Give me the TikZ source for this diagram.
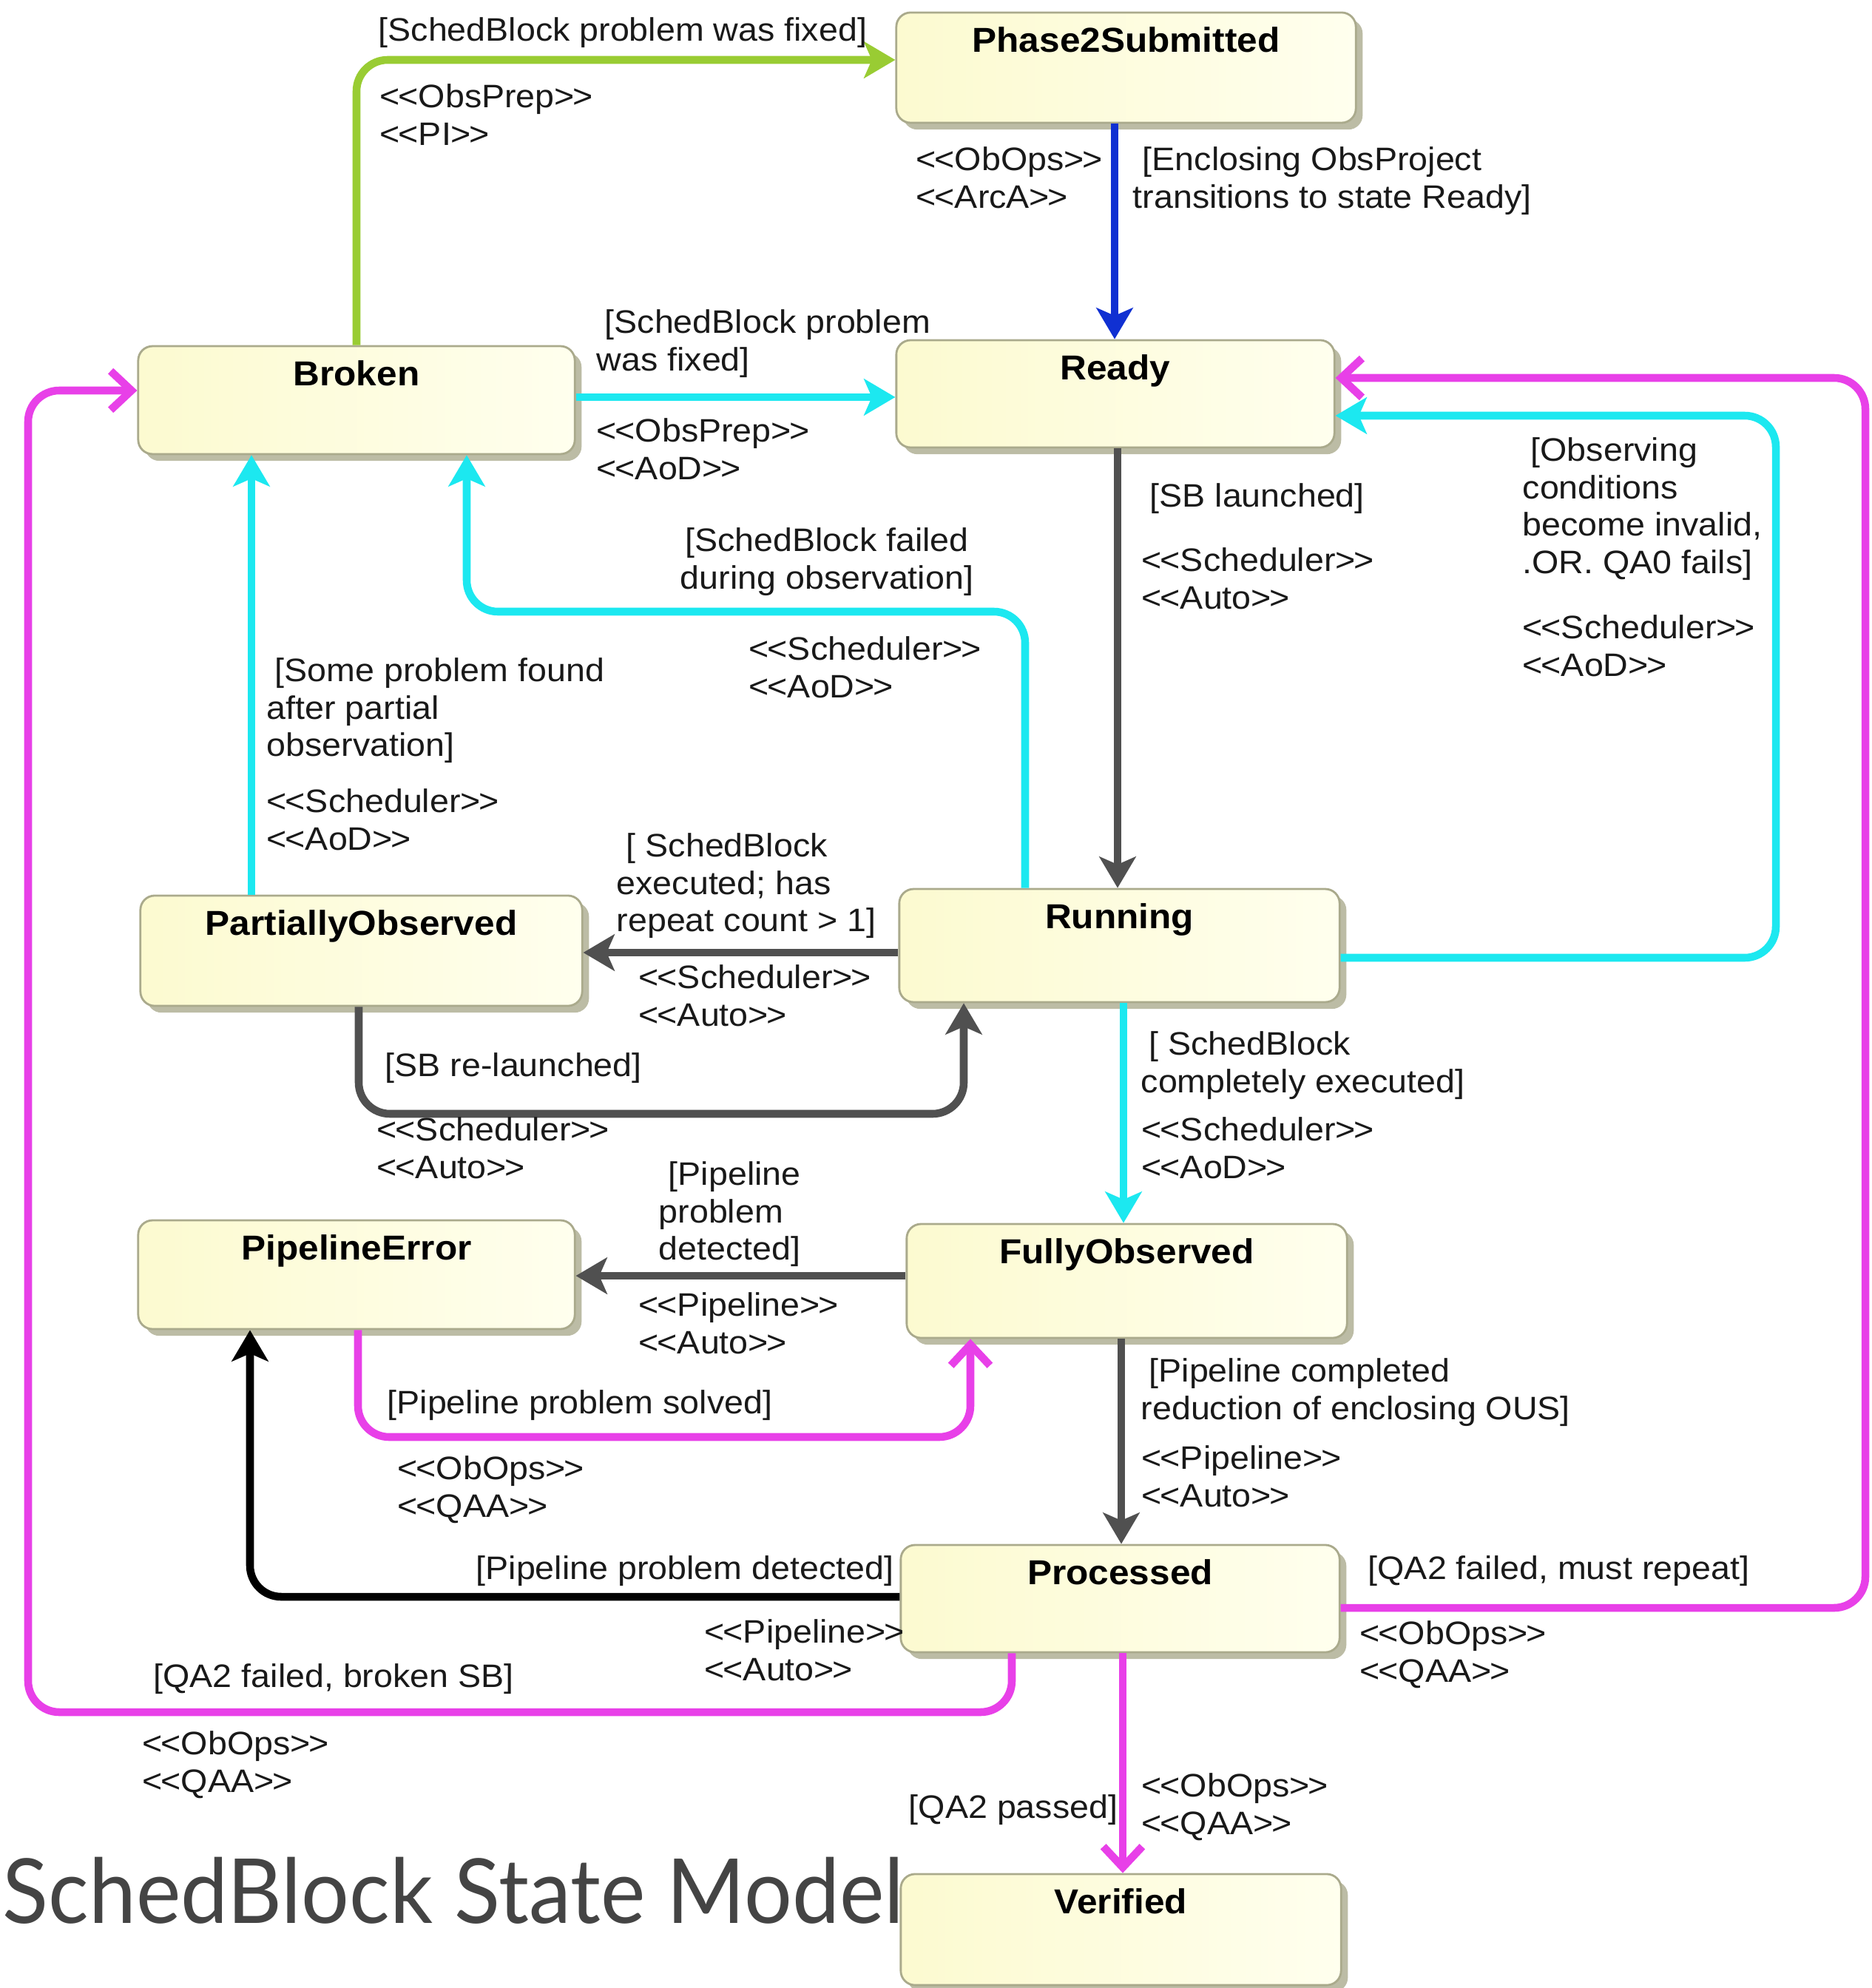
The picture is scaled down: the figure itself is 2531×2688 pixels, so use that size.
\documentclass[tikz,border=0pt]{standalone}
\usepackage{fontspec}
\setmainfont{Liberation Sans}[FakeStretch=1.06]
\newfontfamily\titlefont{Lato}
\usetikzlibrary{arrows.meta,shadows}
\definecolor{cyanc}{RGB}{28,232,240}
\definecolor{magc}{RGB}{232,64,232}
\definecolor{greenc}{RGB}{153,204,51}
\definecolor{bluec}{RGB}{16,48,210}
\definecolor{grayc}{RGB}{80,80,80}
\definecolor{boxleft}{RGB}{252,250,208}
\definecolor{boxright}{RGB}{255,255,238}
\definecolor{boxborder}{RGB}{170,170,140}
\definecolor{shadowc}{RGB}{188,188,165}
\definecolor{textc}{RGB}{25,25,25}
\definecolor{titlec}{RGB}{68,68,68}
\newcommand{\stp}[1]{<\kern-0.05em<#1>\kern-0.05em>}
\begin{document}
\begin{tikzpicture}[x=0.01cm,y=-0.01cm,
  state/.style={draw=boxborder, line width=0.8pt, rounded corners=5.5pt,
    left color=boxleft, right color=boxright,
    drop shadow={shadow xshift=2.6pt, shadow yshift=-2.6pt, fill=shadowc, opacity=1},
    inner xsep=0pt, inner ysep=0pt, text height=15.2pt, text=black,
    font=\fontsize{13.3}{15}\selectfont\bfseries},
  lbl/.style={font=\fontsize{12.5}{14.4}\selectfont, align=left, inner sep=0pt, anchor=north west, text=textc},
  conn/.style={line width=3pt, rounded corners=12pt},
  filledtip/.style={-{Stealth[length=12pt,width=14pt,inset=3pt]}},
  opentip/.style={-{Straight Barb[length=8pt,width=15pt]}},
  cyanarrow/.style={conn, draw=cyanc, filledtip},
  grayarrow/.style={conn, draw=grayc, filledtip},
  blackarrow/.style={conn, draw=black, filledtip},
  bluearrow/.style={conn, draw=bluec, filledtip},
  greenarrow/.style={conn, draw=greenc, filledtip},
  magarrow/.style={conn, draw=magc, opentip}
]
\useasboundingbox (0,0) rectangle (2531,2688);

% states
\node[state, minimum width=6.21cm, text depth=27.2pt] (p2s) at (1522.5,91.5) {Phase2Submitted};
\node[state, minimum width=5.90cm, text depth=26.3pt] (broken) at (482,541) {Broken};
\node[state, minimum width=5.92cm, text depth=26.05pt] (ready) at (1508,532.5) {Ready};
\node[state, minimum width=5.97cm, text depth=27.2pt] (partobs) at (488.5,1285.5) {PartiallyObserved};
\node[state, minimum width=5.95cm, text depth=28.3pt] (running) at (1513.5,1278.5) {Running};
\node[state, minimum width=5.90cm, text depth=26.6pt] (pipeerr) at (482,1723.5) {PipelineError};
\node[state, minimum width=5.95cm, text depth=28.6pt] (fullyobs) at (1523.5,1732) {FullyObserved};
\node[state, minimum width=5.93cm, text depth=26.05pt] (processed) at (1514.5,2161.5) {Processed};
\node[state, minimum width=5.95cm, text depth=27.5pt] (verified) at (1515.5,2609) {Verified};

% connectors
\draw[greenarrow] (482,0 |- broken.north) -- (482,81) -- (p2s.west |- 0,81);
\draw[bluearrow] (1507,0 |- p2s.south) -- (1507,0 |- ready.north);
\draw[cyanarrow] (broken.east |- 0,537) -- (ready.west |- 0,537);
\draw[grayarrow] (1511,0 |- ready.south) -- (1511,0 |- running.north);
\draw[cyanarrow] (running.east |- 0,1295) -- (2401,1295) -- (2401,562) -- (ready.east |- 0,562);
\draw[magarrow] (processed.east |- 0,2174) -- (2522,2174) -- (2522,511) -- (ready.east |- 0,511);
\draw[cyanarrow] (1386,0 |- running.north) -- (1386,827) -- (631,827) -- (631,0 |- broken.south);
\draw[cyanarrow] (340,0 |- partobs.north) -- (340,0 |- broken.south);
\draw[grayarrow] (running.west |- 0,1288) -- (partobs.east |- 0,1288);
\draw[grayarrow] (485,0 |- partobs.south) -- (485,1506) -- (1303,1506) -- (1303,0 |- running.south);
\draw[cyanarrow] (1519,0 |- running.south) -- (1519,0 |- fullyobs.north);
\draw[grayarrow] (fullyobs.west |- 0,1725) -- (pipeerr.east |- 0,1725);
\draw[magarrow] (484,0 |- pipeerr.south) -- (484,1943) -- (1312,1943) -- (1312,0 |- fullyobs.south);
\draw[grayarrow] (1516,0 |- fullyobs.south) -- (1516,0 |- processed.north);
\draw[blackarrow] (processed.west |- 0,2159) -- (338,2159) -- (338,0 |- pipeerr.south);
\draw[magarrow] (1368,0 |- processed.south) -- (1368,2315) -- (38,2315) -- (38,528) -- (broken.west |- 0,528);
\draw[magarrow] (1518,0 |- processed.south) -- (1518,0 |- verified.north);

% labels
\node[lbl] (l1) at (511,23) {[SchedBlock problem was fixed]};
\node[lbl] (l2) at (513,113) {\stp{ObsPrep}\\\stp{PI}};
\node[lbl] (l3) at (1238,198) {\stp{ObOps}\\\stp{ArcA}};
\node[lbl] (l4) at (1531,198) {\hspace*{0.3em}[Enclosing ObsProject\\transitions to state Ready]};
\node[lbl] (l5) at (806,418) {\hspace*{0.25em}[SchedBlock problem\\was fixed]};
\node[lbl] (l6) at (806,565) {\stp{ObsPrep}\\\stp{AoD}};
\node[lbl] (l7) at (1554,653) {[SB launched]};
\node[lbl] (l8) at (1543,740) {\stp{Scheduler}\\\stp{Auto}};
\node[lbl] (l9) at (2058,591) {\hspace*{0.25em}[Observing\\conditions\\become invalid,\\.OR. QA0 fails]};
\node[lbl] (l10) at (2058,831) {\stp{Scheduler}\\\stp{AoD}};
\node[lbl, anchor=north, align=center] (l11) at (1118,713) {[SchedBlock failed\\during observation]};
\node[lbl] (l12) at (1012,860) {\stp{Scheduler}\\\stp{AoD}};
\node[lbl] (l13) at (360,889) {\hspace*{0.25em}[Some problem found\\after partial\\observation]};
\node[lbl] (l14) at (360,1066) {\stp{Scheduler}\\\stp{AoD}};
\node[lbl] (l15) at (833,1126) {\hspace*{0.3em}[ SchedBlock\\executed; has\\repeat count > 1]};
\node[lbl] (l16) at (863,1304) {\stp{Scheduler}\\\stp{Auto}};
\node[lbl] (l17) at (520,1423) {[SB re-launched]};
\node[lbl] (l18) at (509,1510) {\stp{Scheduler}\\\stp{Auto}};
\node[lbl] (l19) at (1542,1394) {\hspace*{0.25em}[ SchedBlock\\completely executed]};
\node[lbl] (l20) at (1543,1510) {\stp{Scheduler}\\\stp{AoD}};
\node[lbl] (l21) at (890,1570) {\hspace*{0.3em}[Pipeline\\problem\\detected]};
\node[lbl] (l22) at (863,1747) {\stp{Pipeline}\\\stp{Auto}};
\node[lbl] (l23) at (523,1879) {[Pipeline problem solved]};
\node[lbl] (l24) at (537,1968) {\stp{ObOps}\\\stp{QAA}};
\node[lbl] (l25) at (1542,1836) {\hspace*{0.25em}[Pipeline completed\\reduction of enclosing OUS]};
\node[lbl] (l26) at (1543,1954) {\stp{Pipeline}\\\stp{Auto}};
\node[lbl, anchor=north east] (l27) at (1209,2103) {[Pipeline problem detected]};
\node[lbl] (l28) at (952,2189) {\stp{Pipeline}\\\stp{Auto}};
\node[lbl] (l29) at (1849,2103) {[QA2 failed, must repeat]};
\node[lbl] (l30) at (1838,2191) {\stp{ObOps}\\\stp{QAA}};
\node[lbl] (l31) at (207,2249) {[QA2 failed, broken SB]};
\node[lbl] (l32) at (192,2340) {\stp{ObOps}\\\stp{QAA}};
\node[lbl, anchor=north east] (l33) at (1512,2426) {[QA2 passed]};
\node[lbl] (l34) at (1543,2397) {\stp{ObOps}\\\stp{QAA}};

% title
\node[anchor=base west, inner sep=0pt, text=titlec, font=\titlefont\fontsize{34.5}{40}\selectfont] (title) at (3,2600) {\scalebox{0.943}[1]{SchedBlock State Model}};
\end{tikzpicture}
\end{document}
